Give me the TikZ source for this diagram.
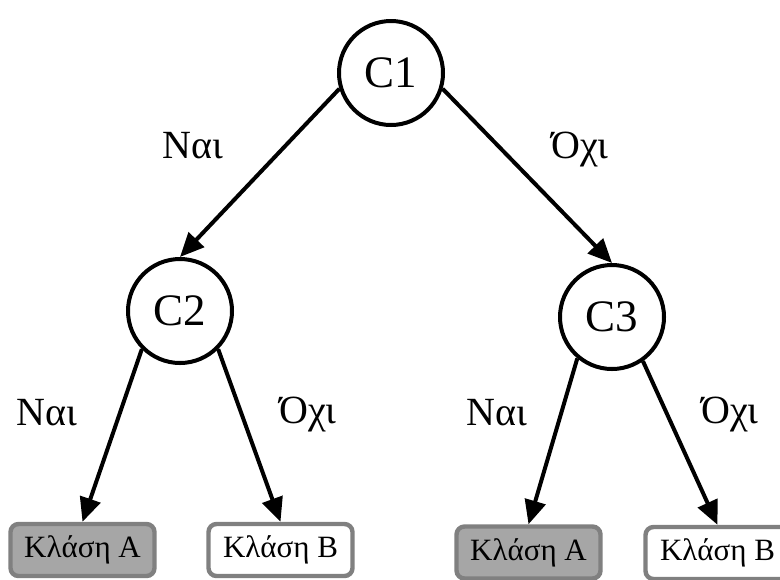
\documentclass[tikz,border=0pt]{standalone}
\usepackage{fontspec}
\setmainfont{Liberation Serif}
\usetikzlibrary{positioning,arrows.meta}
\definecolor{leaffill}{HTML}{A6A6A6}
\definecolor{leafline}{HTML}{808080}

\begin{document}
\begin{tikzpicture}[cond/.style={circle,draw,line width=2pt,minimum size=52pt,inner sep=0pt,font=\fontsize{22.5}{24}\selectfont},
	leaf/.style={rectangle,rounded corners=4pt,draw=leafline,line width=2.2pt,minimum width=72pt,minimum height=26pt,inner sep=0pt,font=\fontsize{15.5}{17}\selectfont},
	lbl/.style={font=\fontsize{20}{22}\selectfont},
	edge/.style={line width=2pt,-{Triangle[length=12pt,width=10.5pt]}},
	on grid]
		\useasboundingbox (0,0) rectangle (390pt,-289.5pt);
		\node[cond] (c1) at (195.5pt,-36.5pt) {C1};
		\node[cond] (c2) [below left=119pt and 105.5pt of c1] {C2};
		\node[cond] (c3) [below right=122pt and 110.5pt of c1] {C3};
		\node[leaf,fill=leaffill] (a1) [below left=119.5pt and 48.75pt of c2] {Κλάση Α};
		\node[leaf,fill=white] (b1) [below right=119.5pt and 50.25pt of c2] {Κλάση Β};
		\node[leaf,fill=leaffill] (a2) [below left=117.75pt and 41.75pt of c3] {Κλάση Α};
		\node[leaf,fill=white] (b2) [below right=118pt and 52.75pt of c3] {Κλάση Β};

		\node[lbl] (y1) [below left=36.5pt and 99pt of c1] {Ναι};
		\node[lbl] (n1) [below right=38.5pt and 94.5pt of c1] {Όχι};
		\node[lbl] (y2) [below left=51pt and 66.5pt of c2] {Ναι};
		\node[lbl] (n2) [below right=52pt and 64pt of c2] {Όχι};
		\node[lbl] (y3) [below left=48pt and 57.5pt of c3] {Ναι};
		\node[lbl] (n3) [below right=49pt and 59pt of c3] {Όχι};

		\draw[edge] (c1.197) -- (c2.north);
		\draw[edge] (c1.-17) -- (c3.north);
		\draw[edge] (c2.225) -- (a1.north);
		\draw[edge] (c2.315) -- (b1.north);
		\draw[edge] (c3.230) -- (a2.north);
		\draw[edge] (c3.305) -- (b2.north);
	\end{tikzpicture}
\end{document}
